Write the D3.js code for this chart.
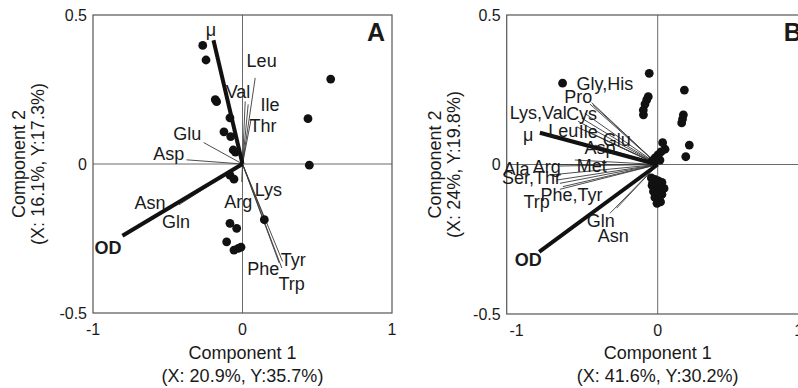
<!DOCTYPE html>
<html>
<head>
<meta charset="utf-8">
<script src="https://cdn.jsdelivr.net/npm/d3@7"></script>
<style>
  html, body { margin: 0; padding: 0; background: #fff; }
  svg { display: block; font-family: "Liberation Sans", Arial, sans-serif; }
</style>
</head>
<body>
<svg id="chart" width="798" height="388"></svg>
<script>
// ---- Panel A: scores and loadings ----
const scoresA = [
  [-0.266, 0.398], [-0.244, 0.349], [-0.173, 0.209], [-0.182, 0.216],
  [-0.084, 0.155], [-0.124, 0.108], [-0.079, 0.092], [-0.062, 0.047],
  [-0.047, 0.040], [0.590, 0.285], [0.438, 0.152], [0.447, -0.004],
  [-0.084, -0.037], [-0.057, -0.051], [0.146, -0.187], [-0.084, -0.199],
  [-0.039, -0.216], [-0.106, -0.261], [-0.028, -0.283], [-0.057, -0.289],
  [-0.010, -0.279]
];
// variable loadings: [name, x, y]
const vectorsA = [
  ["Leu", 0.085, 0.289], ["Val", 0.018, 0.210], ["Ile", 0.038, 0.200],
  ["Thr", 0.057, 0.149], ["Glu", -0.260, 0.072], ["Asp", -0.375, 0.014],
  ["Asn", -0.490, -0.144], ["Gln", -0.425, -0.137], ["Lys", 0.160, -0.200],
  ["Arg", -0.005, -0.060], ["Tyr", 0.268, -0.327], ["Phe", 0.245, -0.332],
  ["Trp", 0.263, -0.349]
];
const responsesA = [["μ", -0.194, 0.415], ["OD", -0.803, -0.241]];
// label anchors: [text, x, y, bold]
const labelsA = [
  ["μ", -0.211, 0.450, false], ["OD", -0.900, -0.279, true],
  ["Leu", 0.128, 0.346], ["Val", -0.030, 0.243], ["Ile", 0.184, 0.201],
  ["Thr", 0.137, 0.128], ["Glu", -0.369, 0.103], ["Asp", -0.493, 0.036],
  ["Asn", -0.619, -0.130], ["Gln", -0.445, -0.194], ["Lys", 0.173, -0.087],
  ["Arg", -0.028, -0.127], ["Tyr", 0.340, -0.322], ["Phe", 0.139, -0.350],
  ["Trp", 0.329, -0.400]
];

// ---- Panel B: scores and loadings ----
const scoresB = [
  [-0.060, 0.305], [-0.067, 0.227], [-0.078, 0.216], [-0.090, 0.202],
  [-0.102, 0.182], [-0.101, 0.166], [0.189, 0.249], [0.182, 0.166],
  [0.176, 0.152], [0.170, 0.139], [0.224, 0.065], [0.199, 0.026],
  [-0.674, 0.272], [0.035, 0.073], [0.052, 0.051], [0.023, 0.042],
  [0.002, 0.032], [-0.019, 0.022], [-0.040, 0.012], [0.016, 0.015],
  [-0.045, -0.045], [-0.020, -0.050], [0.005, -0.055], [0.030, -0.060],
  [-0.040, -0.070], [-0.010, -0.075], [0.020, -0.080], [0.045, -0.080],
  [-0.030, -0.090], [0.000, -0.095], [0.030, -0.100], [-0.020, -0.110],
  [0.010, -0.115], [-0.005, -0.130], [0.020, -0.125], [-0.035, -0.060]
];
const vectorsB = [
  ["Gly", -0.468, 0.207], ["His", -0.460, 0.200], ["Pro", -0.480, 0.202],
  ["Cys", -0.516, 0.171], ["Lys", -0.539, 0.155], ["Val", -0.565, 0.145],
  ["Leu", -0.574, 0.126], ["Ile", -0.516, 0.115], ["Glu", -0.374, 0.082],
  ["Asp", -0.445, 0.065], ["Met", -0.587, 0.015], ["Ala", -0.740, 0.000],
  ["Arg", -0.693, -0.005], ["Ser", -0.764, -0.035], ["Thr", -0.716, -0.052],
  ["Phe", -0.693, -0.063], ["Tyr", -0.672, -0.074], ["Trp", -0.693, -0.083],
  ["Gln", -0.338, -0.163], ["Asn", -0.291, -0.146]
];
const responsesB = [["μ", -0.835, 0.106], ["OD", -0.840, -0.292]];
const labelsB = [
  ["Gly,His", -0.374, 0.270], ["Pro", -0.563, 0.227], ["Lys,Val", -0.847, 0.173],
  ["Cys", -0.539, 0.171], ["Leu", -0.670, 0.115], ["Ile", -0.492, 0.110],
  ["Glu", -0.291, 0.082], ["Asp", -0.409, 0.058], ["μ", -0.918, 0.099, false],
  ["Met", -0.468, -0.002], ["Ala", -1.000, -0.013], ["Arg", -0.787, -0.007],
  ["Ser,Thr", -0.894, -0.043], ["Phe,Tyr", -0.610, -0.102], ["Trp", -0.858, -0.124],
  ["Gln", -0.404, -0.186], ["Asn", -0.315, -0.239], ["OD", -0.918, -0.319, true]
];

const xTicks = [-1, 0, 1];
const yTicks = [-0.5, 0, 0.5];
const yTickText = ["-0.5", "0", "0.5"];

const panels = [
  { letter: "A", xDomain: [-1, 1], xRange: [93, 392], yRange: [313, 15],
    xTitle: ["Component 1", "(X: 20.9%, Y:35.7%)"],
    yTitle: ["Component 2", "(X: 16.1%, Y:17.3%)"], yTitleX: [25, 44],
    scores: scoresA, vectors: vectorsA, responses: responsesA, labels: labelsA },
  { letter: "B", xDomain: [-1.07, 1.07], xRange: [506.7, 808.7], yRange: [314, 15],
    xTitle: ["Component 1", "(X: 41.6%, Y:30.2%)"],
    yTitle: ["Component 2", "(X: 24%, Y:19.8%)"], yTitleX: [441, 460],
    scores: scoresB, vectors: vectorsB, responses: responsesB, labels: labelsB }
];

const svg = d3.select("#chart");
const ink = "#1a1a1a";

panels.forEach(p => {
  const x = d3.scaleLinear().domain(p.xDomain).range(p.xRange);
  const y = d3.scaleLinear().domain([-0.5, 0.5]).range(p.yRange);
  const g = svg.append("g");
  const [x0, x1] = p.xRange, [yb, yt] = p.yRange;

  // zero reference lines
  g.append("line").attr("x1", x0).attr("x2", x1).attr("y1", y(0)).attr("y2", y(0))
    .attr("stroke", "#6a6a6a").attr("stroke-width", 1);
  g.append("line").attr("x1", x(0)).attr("x2", x(0)).attr("y1", yb).attr("y2", yt)
    .attr("stroke", "#6a6a6a").attr("stroke-width", 1);

  // axis box
  g.append("rect").attr("x", x0).attr("y", yt).attr("width", x1 - x0).attr("height", yb - yt)
    .attr("fill", "none").attr("stroke", "#555").attr("stroke-width", 1.2);

  // tick labels
  g.selectAll(".xt").data(xTicks).join("text")
    .attr("x", d => x(d)).attr("y", yb + 22)
    .attr("text-anchor", "middle").attr("font-size", 16).attr("fill", ink)
    .text(d => d);
  g.selectAll(".yt").data(yTicks).join("text")
    .attr("x", x0 - 6).attr("y", d => y(d)).attr("dy", "0.35em")
    .attr("text-anchor", "end").attr("font-size", 16).attr("fill", ink)
    .text((d, i) => yTickText[i]);

  // axis titles
  const cx = x(0);
  g.append("text").attr("x", cx).attr("y", 359).attr("text-anchor", "middle")
    .attr("font-size", 18).attr("fill", ink).text(p.xTitle[0]);
  g.append("text").attr("x", cx).attr("y", 382).attr("text-anchor", "middle")
    .attr("font-size", 18).attr("fill", ink).text(p.xTitle[1]);
  const cy = y(0);
  p.yTitle.forEach((t, i) => {
    g.append("text")
      .attr("transform", `translate(${p.yTitleX[i]},${cy}) rotate(-90)`)
      .attr("text-anchor", "middle").attr("font-size", 18).attr("fill", ink).text(t);
  });

  // loading vectors
  g.selectAll(".vec").data(p.vectors).join("line")
    .attr("x1", x(0)).attr("y1", y(0))
    .attr("x2", d => x(d[1])).attr("y2", d => y(d[2]))
    .attr("stroke", "#3a3a3a").attr("stroke-width", 0.9);
  g.selectAll(".resp").data(p.responses).join("line")
    .attr("x1", x(0)).attr("y1", y(0))
    .attr("x2", d => x(d[1])).attr("y2", d => y(d[2]))
    .attr("stroke", "#111").attr("stroke-width", 4);

  // scores
  g.selectAll(".pt").data(p.scores).join("circle")
    .attr("cx", d => x(d[0])).attr("cy", d => y(d[1])).attr("r", 4.4)
    .attr("fill", "#111");

  // variable labels
  g.selectAll(".lab").data(p.labels).join("text")
    .attr("x", d => x(d[1])).attr("y", d => y(d[2])).attr("dy", "0.36em")
    .attr("text-anchor", "middle").attr("font-size", 18)
    .attr("font-weight", d => d[3] ? "bold" : "normal")
    .attr("fill", ink).text(d => d[0]);

  // panel letter
  g.append("text").attr("x", x1 - 7).attr("y", yt + 26).attr("text-anchor", "end")
    .attr("font-size", 25).attr("font-weight", "bold").attr("fill", ink).text(p.letter);
});
</script>
</body>
</html>
